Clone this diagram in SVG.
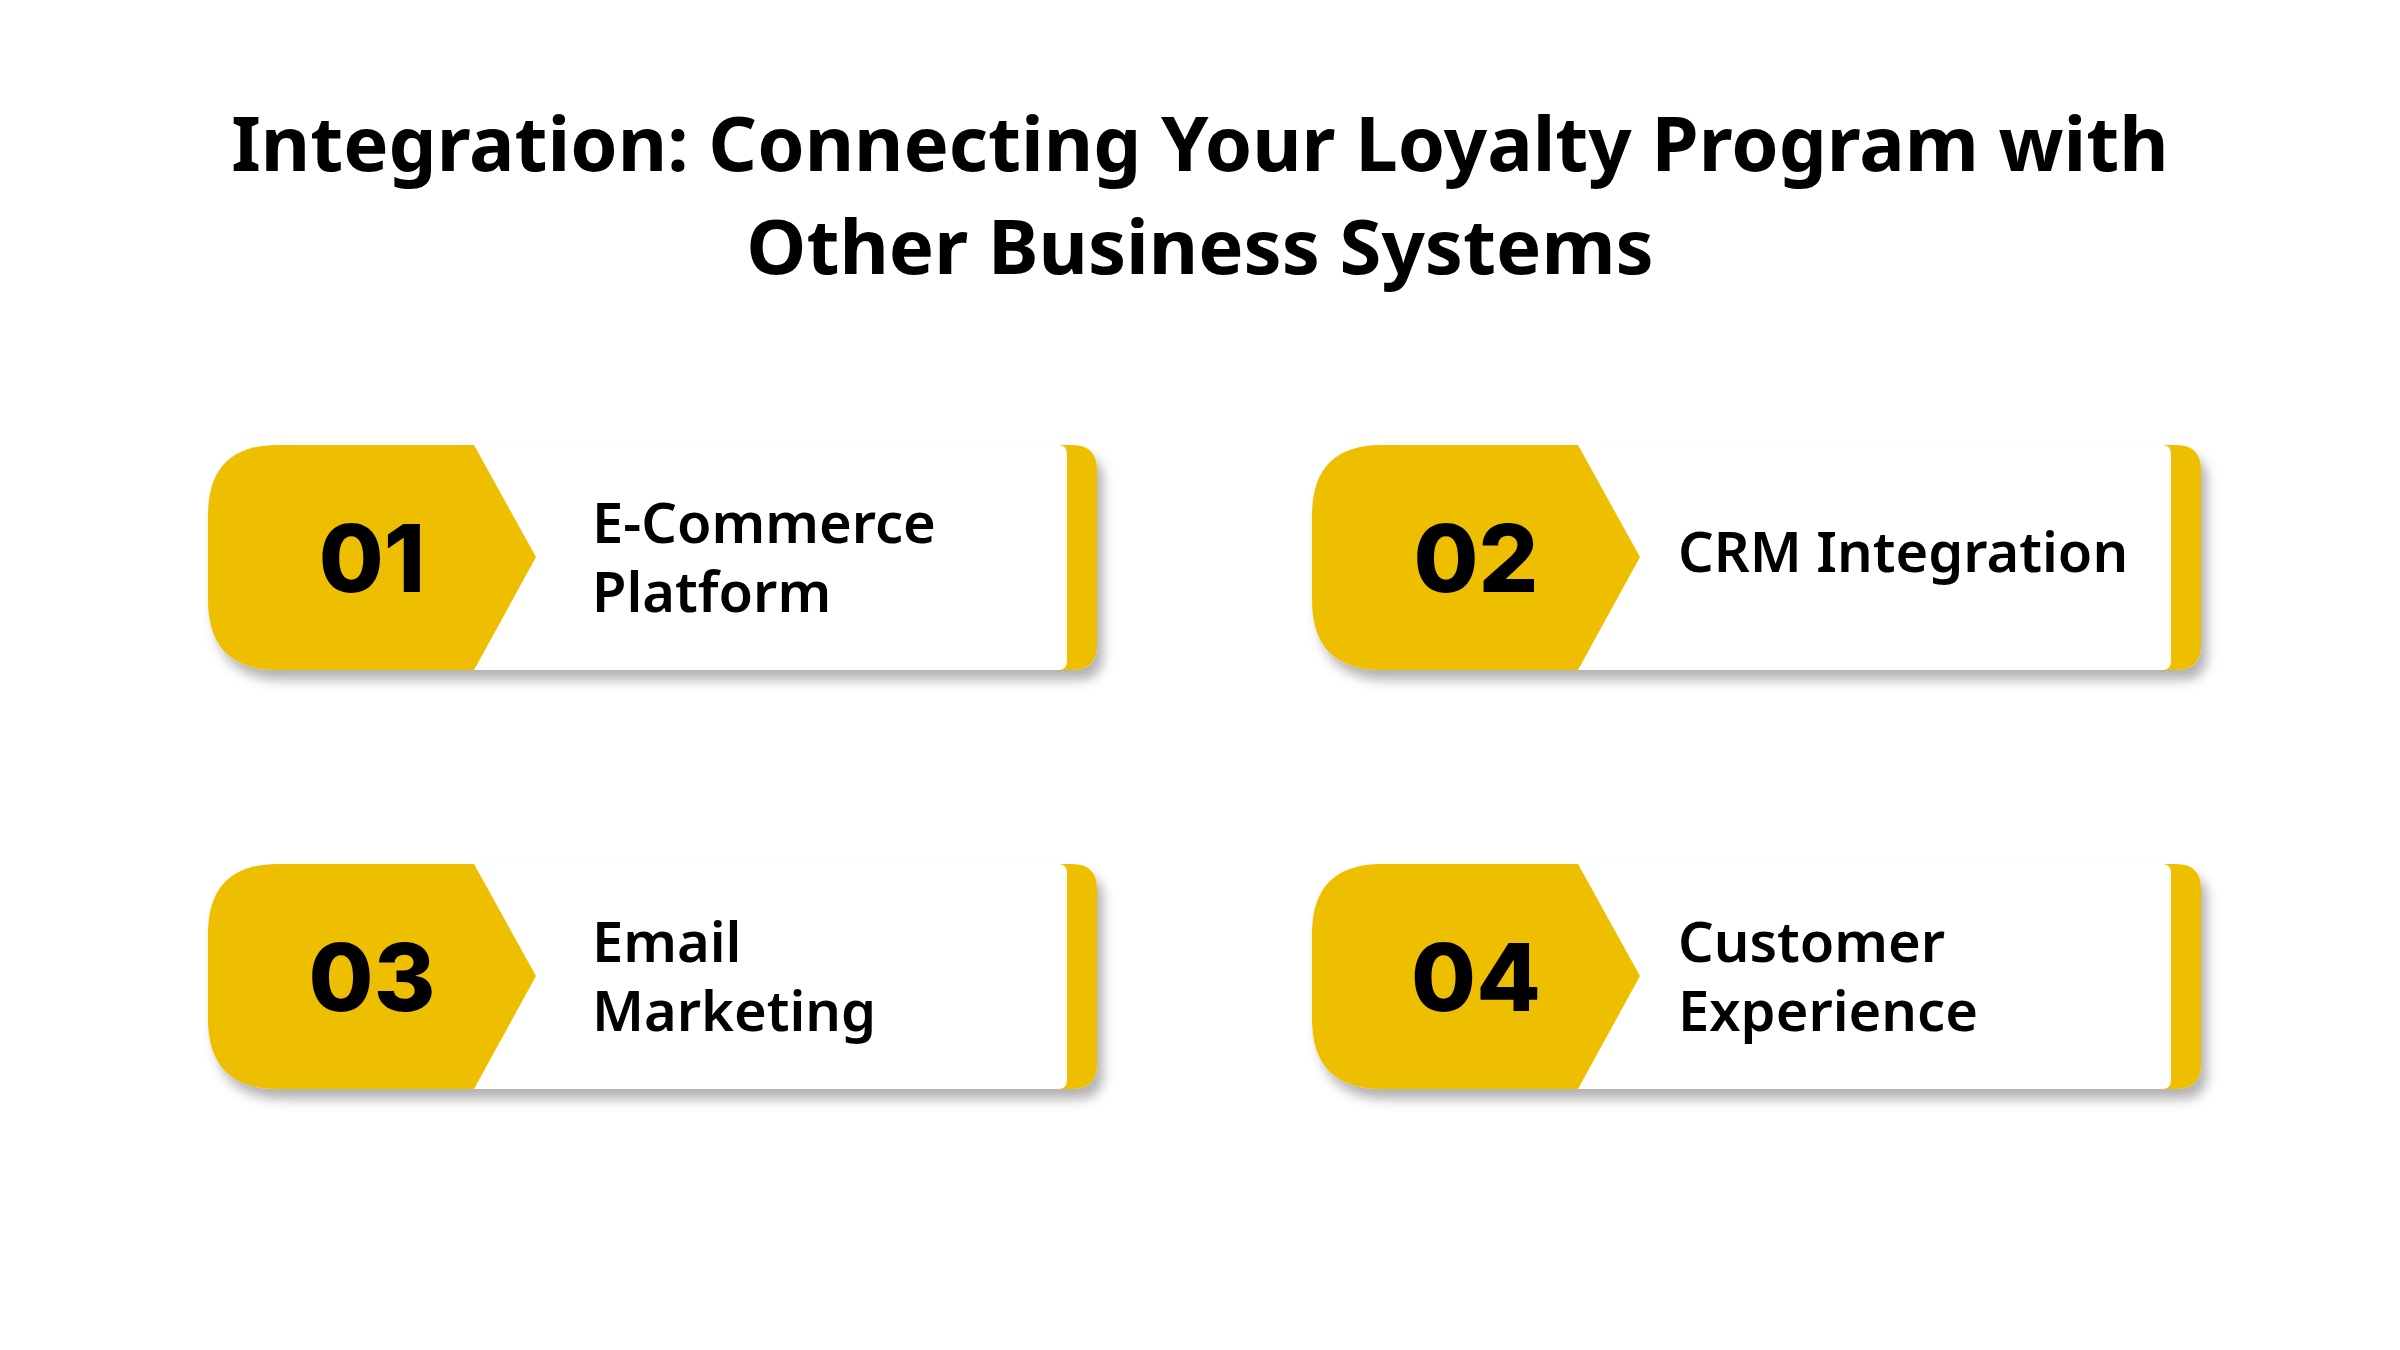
<svg xmlns="http://www.w3.org/2000/svg" width="2400" height="1350" viewBox="0 0 2400 1350">
<defs>
<filter id="sh" x="-10%" y="-20%" width="120%" height="150%"><feDropShadow dx="6" dy="10" stdDeviation="6" flood-color="#000" flood-opacity="0.3"/></filter>
<g id="card">
<path filter="url(#sh)" fill="#EEBF00" d="M278,445 H1072 Q1097,445 1097,470 V645 Q1097,670 1072,670 H278 Q208,670 208,600 V515 Q208,445 278,445 Z"/>
<path fill="#fff" d="M474,445 H1058 Q1067,445 1067,454 V661 Q1067,670 1058,670 H474 L536,557 Z"/>
</g>
</defs>
<style>
.t{font-family:"Noto Sans",sans-serif;font-weight:700;font-size:76px;fill:#000;text-anchor:middle}
.n{font-family:Inter,"Noto Sans",sans-serif;font-weight:800;font-size:94px;fill:#000;text-anchor:middle}
.l{font-family:"Noto Sans",sans-serif;font-weight:600;font-size:56px;fill:#000}
</style>
<rect width="2400" height="1350" fill="#fff"/>
<text class="t" x="1200" y="171">Integration: Connecting Your Loyalty Program with</text>
<text class="t" x="1200" y="274">Other Business Systems</text>
<g id="node1"><use href="#card"/><text class="n" x="372" y="592">01</text><text class="l" x="592" y="543">E-Commerce</text><text class="l" x="592" y="612">Platform</text></g>
<g id="node2" transform="translate(1104,0)"><use href="#card"/><text class="n" x="372" y="592">02</text><text class="l" x="574" y="572">CRM Integration</text></g>
<g id="node3" transform="translate(0,419)"><use href="#card"/><text class="n" x="372" y="592">03</text><text class="l" x="592" y="543">Email</text><text class="l" x="592" y="612">Marketing</text></g>
<g id="node4" transform="translate(1104,419)"><use href="#card"/><text class="n" x="372" y="592">04</text><text class="l" x="574" y="543">Customer</text><text class="l" x="574" y="612">Experience</text></g>
<g id="connectors"/>
</svg>
